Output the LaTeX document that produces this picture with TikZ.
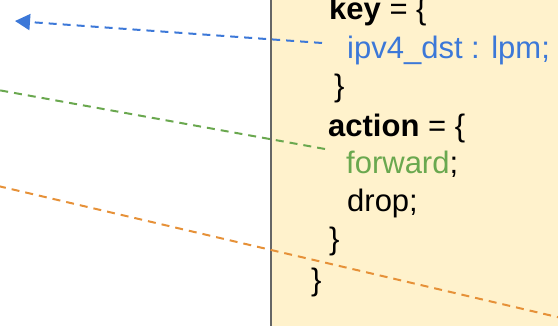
\documentclass[tikz,border=0pt]{standalone}
\usepackage{fontspec}
\setmainfont{Liberation Sans}
\usetikzlibrary{arrows.meta}
\definecolor{boxfill}{HTML}{FFF2CC}
\definecolor{boxline}{HTML}{666666}
\definecolor{keyblue}{HTML}{3C78D8}
\definecolor{actgreen}{HTML}{6AA84F}
\definecolor{linkorange}{HTML}{E69138}
\begin{document}
\begin{tikzpicture}[x=1pt,y=-1pt,
  codeline/.style={anchor=base west,inner sep=0pt,font=\fontsize{31}{38}\selectfont},
  link/.style={dash pattern=on 8pt off 6pt,line width=2pt}]
\useasboundingbox (0,0) rectangle (558,326);
\begin{scope}
\clip (0,0) rectangle (558,326);
% table definition panel
\fill[boxfill] (271,-5) rectangle (570,335);
\draw[boxline,line width=2.2pt] (271,-5) -- (271,335);
% code lines
\node[codeline] (key) at (329,20) {\textbf{key} = \{};
\node[codeline,text=keyblue] (match) at (347,59) {ipv4\_dst : lpm;};
\node[codeline] (keyend) at (334,97) { \}};
\node[codeline] (action) at (328,137) {\textbf{action} = \{};
\node[codeline] (fwd) at (346,174) {\textcolor{actgreen}{forward};};
\node[codeline] (drop) at (347,212) {drop;};
\node[codeline] (actend) at (329,250) {\}};
\node[codeline] (tblend) at (311,291) {\}};
% connectors
\coordinate (blueTip) at (15,21);
\coordinate (blueSrc) at (322,43);
\coordinate (greenFar) at (-2,90);
\coordinate (greenSrc) at (325,149);
\coordinate (orangeA) at (-2,186);
\coordinate (orangeB) at (570,320);
\draw[link,keyblue,-{Triangle[length=15pt,width=16pt]}] (blueSrc) -- (blueTip);
\draw[link,actgreen] (greenSrc) -- (greenFar);
\draw[link,linkorange] (orangeA) -- (orangeB);
\end{scope}
\end{tikzpicture}
\end{document}
